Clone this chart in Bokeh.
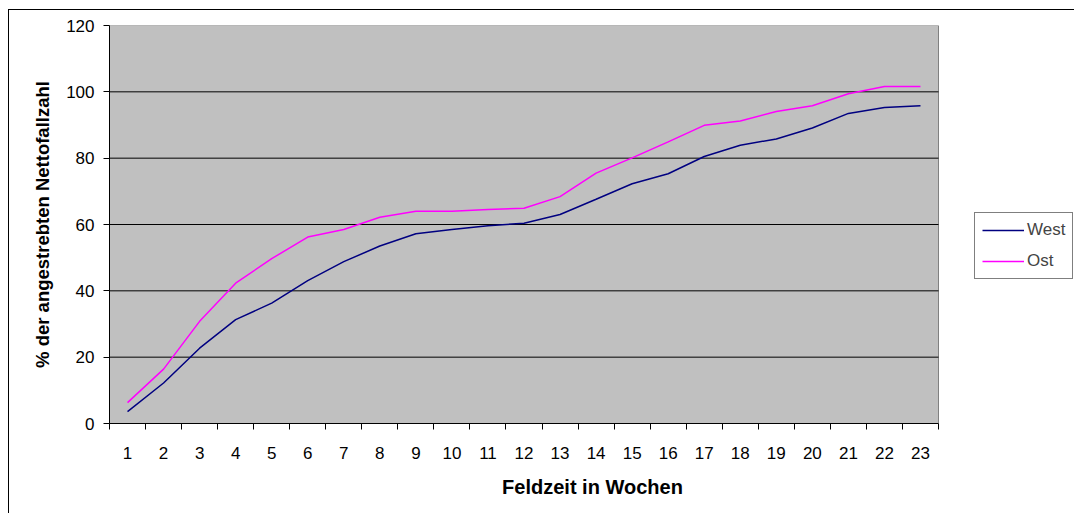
from bokeh.plotting import figure
from bokeh.models import Range1d, FixedTicker, Legend, LegendItem
from bokeh.embed import file_html
from bokeh.resources import INLINE

weeks = list(range(1, 24))
west = [3.6, 12.2, 22.7, 31.3, 36.3, 43.1, 48.8, 53.5, 57.2, 58.5, 59.6, 60.4,
        63.0, 67.6, 72.3, 75.3, 80.5, 83.9, 85.8, 89.1, 93.5, 95.3, 95.8]
ost = [6.3, 16.4, 30.8, 42.3, 49.7, 56.2, 58.5, 62.2, 64.0, 64.0, 64.5, 64.9,
       68.4, 75.5, 80.1, 84.9, 89.9, 91.2, 94.1, 95.8, 99.4, 101.6, 101.6]
y_ticks = [0, 20, 40, 60, 80, 100, 120]
x_title = "Feldzeit in Wochen"
y_title = "% der angestrebten Nettofallzahl"

FONT = "Liberation Sans"

x_lo = weeks[0] - 0.5
x_hi = weeks[-1] + 0.5
# frame extends to the right edge so the legend (outside the grey area) is not clipped
PX_PER_WEEK = 829 / len(weeks)
FRAME_W = 966
x_end = x_lo + FRAME_W / PX_PER_WEEK

p = figure(width=1066, height=504, output_backend="svg", toolbar_location=None,
           x_range=Range1d(x_lo, x_end), y_range=Range1d(y_ticks[0], y_ticks[-1]),
           min_border_left=100, min_border_top=15, min_border_bottom=91,
           min_border_right=0)
p.styles = {"margin-left": "8px", "margin-top": "9px",
            "border-left": "1px solid black", "border-top": "1px solid black"}

p.background_fill_color = "white"
p.border_fill_color = "white"
p.outline_line_color = None

# grey plot area
area = p.quad(left=[x_lo], right=[x_hi], bottom=[y_ticks[0]], top=[y_ticks[-1]],
              fill_color="#C0C0C0", line_color="#808080", line_width=1)
area.level = "image"

# horizontal grid lines limited to the grey plot area
p.xgrid.visible = False
p.ygrid.visible = False
inner = [v for v in y_ticks if y_ticks[0] < v < y_ticks[-1]]
grid = p.segment(x0=[x_lo] * len(inner), x1=[x_hi] * len(inner), y0=inner, y1=inner,
                 line_color="black", line_width=1)
grid.level = "underlay"

# x axis: labels at category centres, ticks at boundaries
p.xaxis.ticker = FixedTicker(ticks=weeks, minor_ticks=[w - 0.5 for w in weeks] + [x_hi])
p.xaxis.bounds = (x_lo, x_hi)
p.xaxis.major_tick_line_color = None
p.xaxis.major_tick_in = 0
p.xaxis.major_tick_out = 0
p.xaxis.minor_tick_line_color = "black"
p.xaxis.minor_tick_in = 0
p.xaxis.minor_tick_out = 6
p.xaxis.axis_line_color = "black"
p.xaxis.major_label_standoff = 17
p.xaxis.axis_label = x_title
p.xaxis.axis_label_standoff = 14

p.yaxis.ticker = FixedTicker(ticks=y_ticks)
p.yaxis.minor_tick_line_color = None
p.yaxis.major_tick_in = 0
p.yaxis.major_tick_out = 6
p.yaxis.major_tick_line_color = "black"
p.yaxis.axis_line_color = "black"
p.yaxis.major_label_standoff = 9
p.yaxis.axis_label = y_title
p.yaxis.axis_label_standoff = 10

for ax in (p.xaxis, p.yaxis):
    ax.major_label_text_font = FONT
    ax.major_label_text_font_size = "17px"
    ax.major_label_text_color = "black"
    ax.axis_label_text_font = FONT
    ax.axis_label_text_font_style = "bold"
    ax.axis_label_text_color = "black"
p.xaxis.axis_label_text_font_size = "20px"
p.yaxis.axis_label_text_font_size = "18.5px"

r_west = p.line(weeks, west, line_color="#000080", line_width=1.5)
r_ost = p.line(weeks, ost, line_color="#FF00FF", line_width=1.5)

legend = Legend(items=[LegendItem(label="West", renderers=[r_west]),
                       LegendItem(label="Ost", renderers=[r_ost])],
                location=(865, 144), orientation="vertical",
                label_text_font=FONT, label_text_font_size="17px",
                glyph_width=42, glyph_height=20, label_height=20,
                label_standoff=3, spacing=11, padding=7, margin=0,
                border_line_color="black", border_line_width=1,
                background_fill_color="white", background_fill_alpha=1)
p.add_layout(legend, "center")

open("out.html", "w").write(file_html(p, INLINE))
